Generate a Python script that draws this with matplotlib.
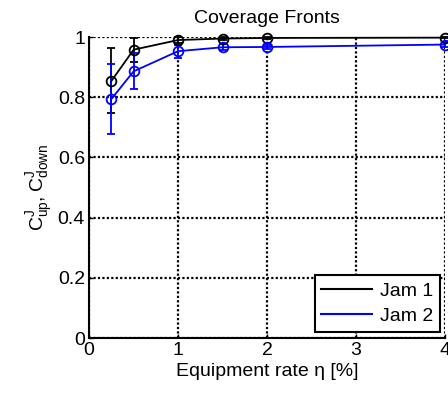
import matplotlib.pyplot as plt
from matplotlib.lines import Line2D

# equipment rate [%]
eta = [0.25, 0.5, 1.0, 1.5, 2.0, 4.0]

# coverage values with standard deviations
jam1 = [0.854, 0.958, 0.99, 0.995, 0.997, 0.998]
jam1_err = [0.108, 0.04, 0.01, 0.005, 0.003, 0.002]
jam2 = [0.794, 0.886, 0.953, 0.966, 0.967, 0.975]
jam2_err = [0.117, 0.06, 0.022, 0.01, 0.008, 0.008]

labels = ["Jam 1", "Jam 2"]
colours = ["black", "blue"]

plt.rcParams['font.family'] = ['Liberation Sans', 'DejaVu Sans']
plt.rcParams['font.size'] = 14
plt.rcParams['mathtext.fontset'] = 'custom'
plt.rcParams['mathtext.rm'] = 'Liberation Sans'

fig = plt.figure(figsize=(4.48, 3.94), dpi=100)
ax = fig.add_axes([0.199, 0.142, 0.794, 0.764])

for y, err, lab, col in zip([jam1, jam2], [jam1_err, jam2_err], labels, colours):
    ax.errorbar(eta, y, yerr=err, color=col, marker='o', mfc='none', mec=col,
                markersize=7, mew=1.3, linewidth=1.3, elinewidth=1.3,
                capsize=3, capthick=1.3, label=lab, clip_on=False, zorder=3)

ax.set_xlim(0, 4)
ax.set_ylim(0, 1)
ax.set_xticks([0, 1, 2, 3, 4])
ax.set_yticks([0, 0.2, 0.4, 0.6, 0.8, 1])
ax.set_yticklabels(["0", "0.2", "0.4", "0.6", "0.8", "1"])

ax.grid(True, color='black', linestyle=(0, (1, 1)), linewidth=1.6)
ax.spines['top'].set_visible(False)
ax.spines['right'].set_visible(False)
ax.spines['left'].set_linewidth(1.5)
ax.spines['bottom'].set_linewidth(1.5)
ax.tick_params(direction='in', length=3, width=1, labelsize=14, pad=3)

ax.set_title("Coverage Fronts", fontsize=14, pad=10)
ax.set_xlabel("Equipment rate η [%]", fontsize=14, labelpad=3)
ax.set_ylabel(r"$\mathregular{C^J_{up}, C^J_{down}}$", fontsize=14, labelpad=2)

# legend shows plain lines
handles = [Line2D([], [], color=c, linewidth=1.5) for c in colours]
leg = ax.legend(handles, labels, loc='lower right', fancybox=False,
                edgecolor='black', framealpha=1, borderpad=0.35,
                handlelength=2.6, handletextpad=0.4, labelspacing=0.4,
                borderaxespad=0, bbox_to_anchor=(0.986, 0.02))
leg.get_frame().set_linewidth(1.5)

fig.savefig("out.png", dpi=100)
